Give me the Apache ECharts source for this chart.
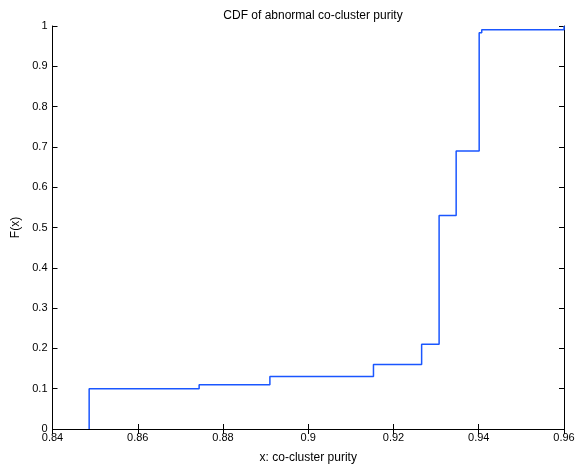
<!DOCTYPE html>
<html>
<head>
<meta charset="utf-8">
<script src="https://cdn.jsdelivr.net/npm/echarts@6/dist/echarts.min.js"></script>
<style>
  html, body { margin: 0; padding: 0; background: #fff; }
  #main { width: 582px; height: 466px; }
</style>
</head>
<body>
<div id="main"></div>
<script>
// purity values where the CDF jumps, and F(x) after each jump
var purity = [0.8486, 0.8486, 0.8744, 0.8910, 0.9153, 0.9266, 0.9307, 0.9347, 0.9401, 0.9407, 0.96];
var cdf = [0, 0.10, 0.11, 0.13, 0.16, 0.21, 0.53, 0.69, 0.983, 0.991, 1.0];

var xTicks = [0.84, 0.86, 0.88, 0.9, 0.92, 0.94, 0.96];
var yTicks = [0, 0.1, 0.2, 0.3, 0.4, 0.5, 0.6, 0.7, 0.8, 0.9, 1];

var font = 'Liberation Sans';

var points = [];
for (var i = 0; i < purity.length; i++) {
  points.push([purity[i], cdf[i]]);
}

var chart = echarts.init(document.getElementById('main'), null, { renderer: 'canvas' });

var axisLine = { show: true, lineStyle: { color: '#000', width: 1 } };
var tick = { show: true, inside: true, length: 5, lineStyle: { color: '#000' } };

var option = {
  animation: false,
  backgroundColor: '#fff',
  title: {
    text: 'CDF of abnormal co-cluster purity',
    left: 308,
    top: 5,
    textAlign: 'center',
    textStyle: { fontFamily: font, fontSize: 12, fontWeight: 'normal', color: '#000' }
  },
  grid: { left: 52.5, right: 18, top: 26, bottom: 37, outerBoundsMode: 'none', containLabel: false },
  xAxis: [{
    type: 'value',
    min: xTicks[0],
    max: xTicks[xTicks.length - 1],
    interval: 0.02,
    name: 'x: co-cluster purity',
    nameLocation: 'middle',
    nameGap: 23,
    nameTextStyle: { fontFamily: font, fontSize: 12, color: '#000' },
    axisLine: axisLine,
    axisTick: tick,
    splitLine: { show: false },
    axisLabel: { fontFamily: font, fontSize: 11, color: '#000', margin: 3 }
  }, {
    type: 'value',
    position: 'top',
    min: xTicks[0],
    max: xTicks[xTicks.length - 1],
    interval: 0.02,
    axisLine: axisLine,
    axisTick: tick,
    splitLine: { show: false },
    axisLabel: { show: false }
  }],
  yAxis: [{
    type: 'value',
    min: yTicks[0],
    max: yTicks[yTicks.length - 1],
    interval: 0.1,
    name: 'F(x)',
    nameLocation: 'middle',
    nameGap: 30,
    nameRotate: 90,
    nameTextStyle: { fontFamily: font, fontSize: 12, color: '#000' },
    axisLine: axisLine,
    axisTick: tick,
    splitLine: { show: false },
    axisLabel: { fontFamily: font, fontSize: 11, color: '#000', margin: 5 }
  }, {
    type: 'value',
    position: 'right',
    min: yTicks[0],
    max: yTicks[yTicks.length - 1],
    interval: 0.1,
    axisLine: axisLine,
    axisTick: tick,
    splitLine: { show: false },
    axisLabel: { show: false }
  }],
  series: [{
    type: 'line',
    step: 'end',
    data: points,
    symbol: 'none',
    lineStyle: { color: '#1a56ff', width: 1.5 }
  }]
};

chart.setOption(option);
</script>
</body>
</html>
